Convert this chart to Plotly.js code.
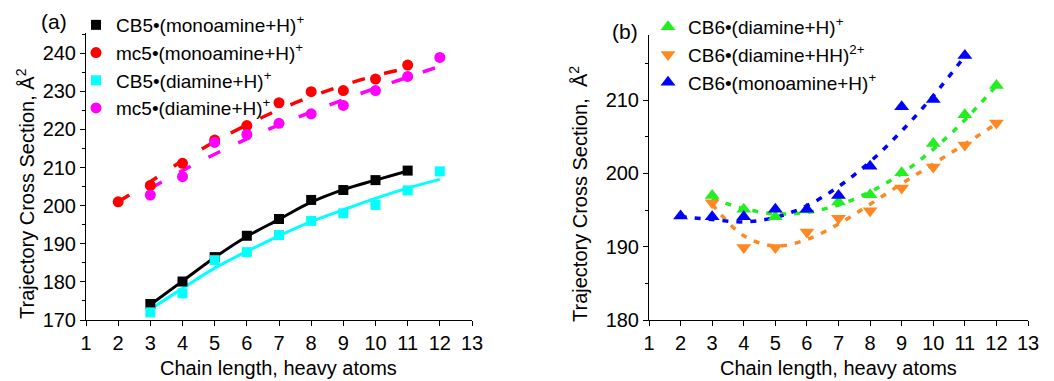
<!DOCTYPE html>
<html>
<head>
<meta charset="utf-8">
<script src="https://cdn.plot.ly/plotly-3.0.1.min.js"></script>
<style>html,body{margin:0;padding:0;background:#fff;}#chart{width:1054px;height:381px;}</style>
</head>
<body>
<div id="chart"></div>
<script>
// ---- Panel (a) data ----
const xA_mono = [3, 4, 5, 6, 7, 8, 9, 10, 11];
const cb5Mono = [174.2, 180.1, 186.5, 192.1, 196.5, 201.5, 204.1, 206.7, 209.2];
const cb5MonoFit = [174.0, 180.2, 186.4, 191.9, 196.4, 200.9, 204.2, 206.7, 209.1];
const xA_diam = [3, 4, 5, 6, 7, 8, 9, 10, 11, 12];
const cb5Diam = [172.0, 177.0, 185.7, 187.8, 192.3, 196.0, 198.0, 200.2, 204.0, 209.0];
const cb5DiamFit = [172.8, 178.3, 183.6, 188.0, 192.1, 195.8, 198.9, 201.9, 204.6, 206.9];
const xA_mc5Mono = [2, 3, 4, 5, 6, 7, 8, 9, 10, 11];
const mc5Mono = [201.0, 205.3, 211.1, 217.2, 221.0, 227.0, 229.9, 230.2, 233.2, 236.9];
const mc5MonoFit = [201.0, 206.3, 211.8, 216.8, 221.2, 225.2, 228.6, 231.6, 234.1, 236.1];
const xA_mc5Diam = [3, 4, 5, 6, 7, 8, 9, 10, 11, 12];
const mc5Diam = [202.8, 207.6, 216.6, 218.7, 221.6, 224.1, 226.3, 230.2, 233.9, 238.9];
const mc5DiamFit = [204.5, 209.2, 213.5, 217.5, 221.2, 224.6, 227.8, 230.8, 233.7, 236.6];

// ---- Panel (b) data ----
const xB_green = [3, 4, 5, 6, 7, 8, 9, 10, 11, 12];
const cb6Diam = [197.0, 195.1, 194.1, 195.0, 196.1, 197.1, 200.1, 204.1, 208.0, 212.0];
const cb6DiamFit = [196.6, 195.2, 194.5, 194.7, 195.7, 197.5, 200.0, 203.3, 207.3, 212.0];
const xB_orange = [3, 4, 5, 6, 7, 8, 9, 10, 11, 12];
const cb6DiamHH = [196.0, 189.9, 189.9, 192.0, 193.9, 194.9, 198.0, 200.9, 203.9, 206.9];
const cb6DiamHHFit = [195.8, 191.5, 190.1, 191.0, 193.1, 195.8, 198.6, 201.3, 204.0, 206.8];
const xB_blue = [2, 3, 4, 5, 6, 7, 8, 9, 10, 11];
const cb6Mono = [194.2, 194.1, 194.1, 195.1, 195.1, 197.0, 201.0, 209.1, 210.1, 216.1];
const cb6MonoFit = [194.1, 193.7, 193.4, 194.0, 195.6, 198.2, 201.6, 205.8, 210.6, 216.0];

const FONT = "Liberation Sans, Arial, sans-serif";
const W = 1054, H = 381;
const px = v => v / W;
const py = v => 1 - v / H;

const traces = [
  // fits panel a
  {x: xA_mono, y: cb5MonoFit, mode: 'lines', line: {color: '#000000', width: 3, shape: 'spline'}, showlegend: false, hoverinfo: 'skip', xaxis: 'x', yaxis: 'y'},
  {x: xA_diam, y: cb5DiamFit, mode: 'lines', line: {color: '#00ffff', width: 3, shape: 'spline'}, showlegend: false, hoverinfo: 'skip', xaxis: 'x', yaxis: 'y'},
  {x: xA_mc5Mono, y: mc5MonoFit, mode: 'lines', line: {color: '#ff0000', width: 3.5, shape: 'spline', dash: '13px,20px'}, showlegend: false, hoverinfo: 'skip', xaxis: 'x', yaxis: 'y'},
  {x: xA_mc5Diam, y: mc5DiamFit, mode: 'lines', line: {color: '#ff00ff', width: 3.5, shape: 'spline', dash: '13px,20px'}, showlegend: false, hoverinfo: 'skip', xaxis: 'x', yaxis: 'y'},
  // markers panel a
  {x: xA_mono, y: cb5Mono, mode: 'markers', name: 'CB5•(monoamine+H)<sup>+</sup>', marker: {symbol: 'square', size: 10, color: '#000000'}, xaxis: 'x', yaxis: 'y', legend: 'legend'},
  {x: xA_mc5Mono, y: mc5Mono, mode: 'markers', name: 'mc5•(monoamine+H)<sup>+</sup>', marker: {symbol: 'circle', size: 11, color: '#ff0000'}, xaxis: 'x', yaxis: 'y', legend: 'legend'},
  {x: xA_diam, y: cb5Diam, mode: 'markers', name: 'CB5•(diamine+H)<sup>+</sup>', marker: {symbol: 'square', size: 10, color: '#00ffff'}, xaxis: 'x', yaxis: 'y', legend: 'legend'},
  {x: xA_mc5Diam, y: mc5Diam, mode: 'markers', name: 'mc5•(diamine+H)<sup>+</sup>', marker: {symbol: 'circle', size: 11, color: '#ff00ff'}, xaxis: 'x', yaxis: 'y', legend: 'legend'},
  // fits panel b
  {x: xB_green, y: cb6DiamFit, mode: 'lines', line: {color: '#22ee22', width: 3.5, shape: 'spline', dash: '6px,8px'}, showlegend: false, hoverinfo: 'skip', xaxis: 'x2', yaxis: 'y2'},
  {x: xB_orange, y: cb6DiamHHFit, mode: 'lines', line: {color: '#ff8822', width: 3.5, shape: 'spline', dash: '6px,8px'}, showlegend: false, hoverinfo: 'skip', xaxis: 'x2', yaxis: 'y2'},
  {x: xB_blue, y: cb6MonoFit, mode: 'lines', line: {color: '#0000ff', width: 3.5, shape: 'spline', dash: '6px,8px'}, showlegend: false, hoverinfo: 'skip', xaxis: 'x2', yaxis: 'y2'},
  // markers panel b
  {x: xB_green, y: cb6Diam, mode: 'markers', name: 'CB6•(diamine+H)<sup>+</sup>', marker: {symbol: 'triangle-up', size: 13, color: '#22ee22'}, xaxis: 'x2', yaxis: 'y2', legend: 'legend2'},
  {x: xB_orange, y: cb6DiamHH, mode: 'markers', name: 'CB6•(diamine+HH)<sup>2+</sup>', marker: {symbol: 'triangle-down', size: 13, color: '#ff8822'}, xaxis: 'x2', yaxis: 'y2', legend: 'legend2'},
  {x: xB_blue, y: cb6Mono, mode: 'markers', name: 'CB6•(monoamine+H)<sup>+</sup>', marker: {symbol: 'triangle-up', size: 13, color: '#0000ff'}, xaxis: 'x2', yaxis: 'y2', legend: 'legend2'}
];

const axisBase = {
  showline: true, linecolor: '#000', linewidth: 1, showgrid: false, zeroline: false,
  ticks: 'outside', ticklen: 5, tickwidth: 1, tickcolor: '#000',
  tickfont: {family: FONT, size: 20, color: '#000'}, fixedrange: true
};

const layout = {
  width: W, height: H,
  margin: {l: 0, r: 0, t: 0, b: 0},
  paper_bgcolor: '#fff', plot_bgcolor: '#fff',
  font: {family: FONT, size: 20, color: '#000'},
  xaxis: Object.assign({}, axisBase, {domain: [px(86), px(472)], range: [1, 13], dtick: 1, tick0: 1, anchor: 'y'}),
  yaxis: Object.assign({}, axisBase, {domain: [py(320), py(33)], range: [170, 245.3], dtick: 10, tick0: 170, anchor: 'x',
    minor: {dtick: 5, tick0: 170, ticks: 'outside', ticklen: 3, tickcolor: '#000', showgrid: false}}),
  xaxis2: Object.assign({}, axisBase, {domain: [px(649), px(1028)], range: [1, 13], dtick: 1, tick0: 1, anchor: 'y2'}),
  yaxis2: Object.assign({}, axisBase, {domain: [py(320), py(35)], range: [180, 218.9], dtick: 10, tick0: 180, anchor: 'x2',
    minor: {dtick: 5, tick0: 180, ticks: 'outside', ticklen: 3, tickcolor: '#000', showgrid: false}}),
  legend: {x: px(76), y: py(6), xanchor: 'left', yanchor: 'top', bgcolor: 'rgba(0,0,0,0)', font: {family: FONT, size: 19, color: '#000'}, tracegroupgap: 0},
  legend2: {x: px(648), y: py(8), xanchor: 'left', yanchor: 'top', bgcolor: 'rgba(0,0,0,0)', font: {family: FONT, size: 19, color: '#000'}, tracegroupgap: 0},
  annotations: [
    {text: '(a)', x: px(54), y: py(22), xref: 'paper', yref: 'paper', showarrow: false, xanchor: 'center', yanchor: 'middle', font: {family: FONT, size: 21}},
    {text: '(b)', x: px(625), y: py(31), xref: 'paper', yref: 'paper', showarrow: false, xanchor: 'center', yanchor: 'middle', font: {family: FONT, size: 21}},
    {text: 'Trajectory Cross Section, Å<sup>2</sup>', x: px(25), y: py(194), xref: 'paper', yref: 'paper', showarrow: false, textangle: -90, xanchor: 'center', yanchor: 'middle', font: {family: FONT, size: 20}},
    {text: 'Trajectory Cross Section,  Å<sup>2</sup>', x: px(578), y: py(194), xref: 'paper', yref: 'paper', showarrow: false, textangle: -90, xanchor: 'center', yanchor: 'middle', font: {family: FONT, size: 20}},
    {text: 'Chain length, heavy atoms', x: px(278), y: py(368), xref: 'paper', yref: 'paper', showarrow: false, xanchor: 'center', yanchor: 'middle', font: {family: FONT, size: 20}},
    {text: 'Chain length, heavy atoms', x: px(838), y: py(368), xref: 'paper', yref: 'paper', showarrow: false, xanchor: 'center', yanchor: 'middle', font: {family: FONT, size: 20}}
  ]
};

Plotly.newPlot('chart', traces, layout, {displayModeBar: false, staticPlot: true});
</script>
</body>
</html>
